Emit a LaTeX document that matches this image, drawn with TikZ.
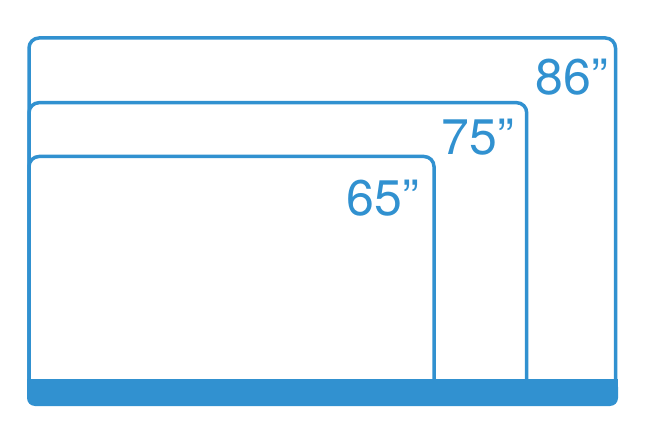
\documentclass[tikz,border=0pt]{standalone}
\usepackage{fontspec}
\setmainfont{TeX Gyre Heros}
\definecolor{tvblue}{RGB}{49,145,208}
\begin{document}
\begin{tikzpicture}[x=1pt,y=-1pt,
  tvline/.style={draw=tvblue,line width=3.5pt,rounded corners=10pt},
  sizelabel/.style={text=tvblue,font=\fontsize{50}{50}\selectfont,inner sep=0pt,anchor=base}]
\useasboundingbox (0,0) rectangle (649,444);
\draw[tvline] (29,385) -- (29,38) -- (615.5,38) -- (615.5,385);
\draw[tvline] (29,385) -- (29,102.7) -- (526.7,102.7) -- (526.7,385);
\draw[tvline] (29,385) -- (29,156.5) -- (434,156.5) -- (434,385);
\fill[tvblue,rounded corners=8pt] (27,379) rectangle (618,406);
\fill[tvblue] (27,379) rectangle (618,392);
\node[sizelabel] (l86) at (572,95) {86”};
\node[sizelabel] (l75) at (478,155) {75”};
\node[sizelabel] (l65) at (383,215) {65”};
\end{tikzpicture}
\end{document}
